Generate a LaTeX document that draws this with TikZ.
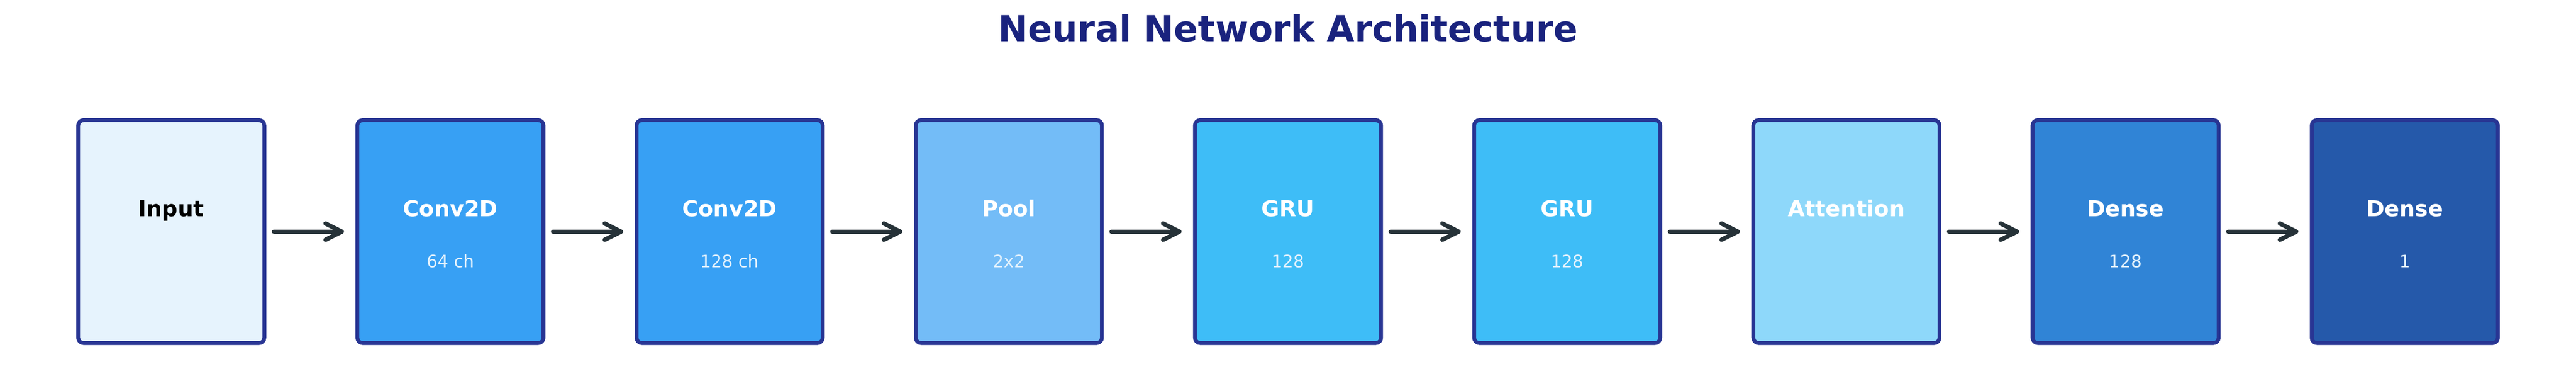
\documentclass[tikz,border=0pt]{standalone}
\usepackage{fontspec}
\setmainfont{DejaVu Sans}
\usetikzlibrary{arrows.meta}
\definecolor{edgeblue}{HTML}{283593}
\definecolor{arrowgrey}{HTML}{263238}
\definecolor{titleblue}{HTML}{1A237E}
\definecolor{infotext}{HTML}{E3F2FD}
\definecolor{cInput}{HTML}{E6F3FD}
\definecolor{cConv}{HTML}{37A0F4}
\definecolor{cPool}{HTML}{73BCF7}
\definecolor{cGRU}{HTML}{3EBDF7}
\definecolor{cAttn}{HTML}{8ED8FA}
\definecolor{cDenseA}{HTML}{3084D6}
\definecolor{cDenseB}{HTML}{2559AA}
\tikzset{
    layer/.style={draw=edgeblue, line width=0.08cm, rounded corners=0.11cm,
        minimum width=3.88cm, minimum height=4.64cm, inner sep=0pt},
    layername/.style={anchor=base, font=\bfseries\fontsize{13}{15}\selectfont},
    layerinfo/.style={anchor=base, text=infotext, font=\fontsize{10.2}{12}\selectfont},
    flow/.style={draw=arrowgrey, line width=0.09cm, line cap=round,
        -{Straight Barb[length=0.34cm,width=0.34cm,round]},
        shorten <=0.16cm, shorten >=0.24cm},
}
\begin{document}
\begin{tikzpicture}
    \useasboundingbox (0,0) rectangle (53.7,8.03);
    \node[anchor=base, text=titleblue, font=\bfseries\fontsize{21.2}{25}\selectfont] (title) at (26.85,7.16) {Neural Network Architecture};

    % layers
    \foreach \i/\name/\info/\col/\txt in {0/Input/{}/cInput/black, 1/Conv2D/64 ch/cConv/white,
            2/Conv2D/128 ch/cConv/white, 3/Pool/2x2/cPool/white, 4/GRU/128/cGRU/white,
            5/GRU/128/cGRU/white, 6/Attention/{}/cAttn/white, 7/Dense/128/cDenseA/white,
            8/Dense/1/cDenseB/white} {
        \node[layer, fill=\col] (box\i) at (3.57+5.82*\i, 3.21) {};
        \node[layername, text=\txt] (name\i) at (3.57+5.82*\i, 3.52) {\name};
        \node[layerinfo] (info\i) at (3.57+5.82*\i, 2.46) {\info};
    }

    % arrows
    \foreach \i [evaluate=\i as \j using int(\i+1)] in {0,...,7}
        \draw[flow] (box\i) -- (box\j);
\end{tikzpicture}
\end{document}
